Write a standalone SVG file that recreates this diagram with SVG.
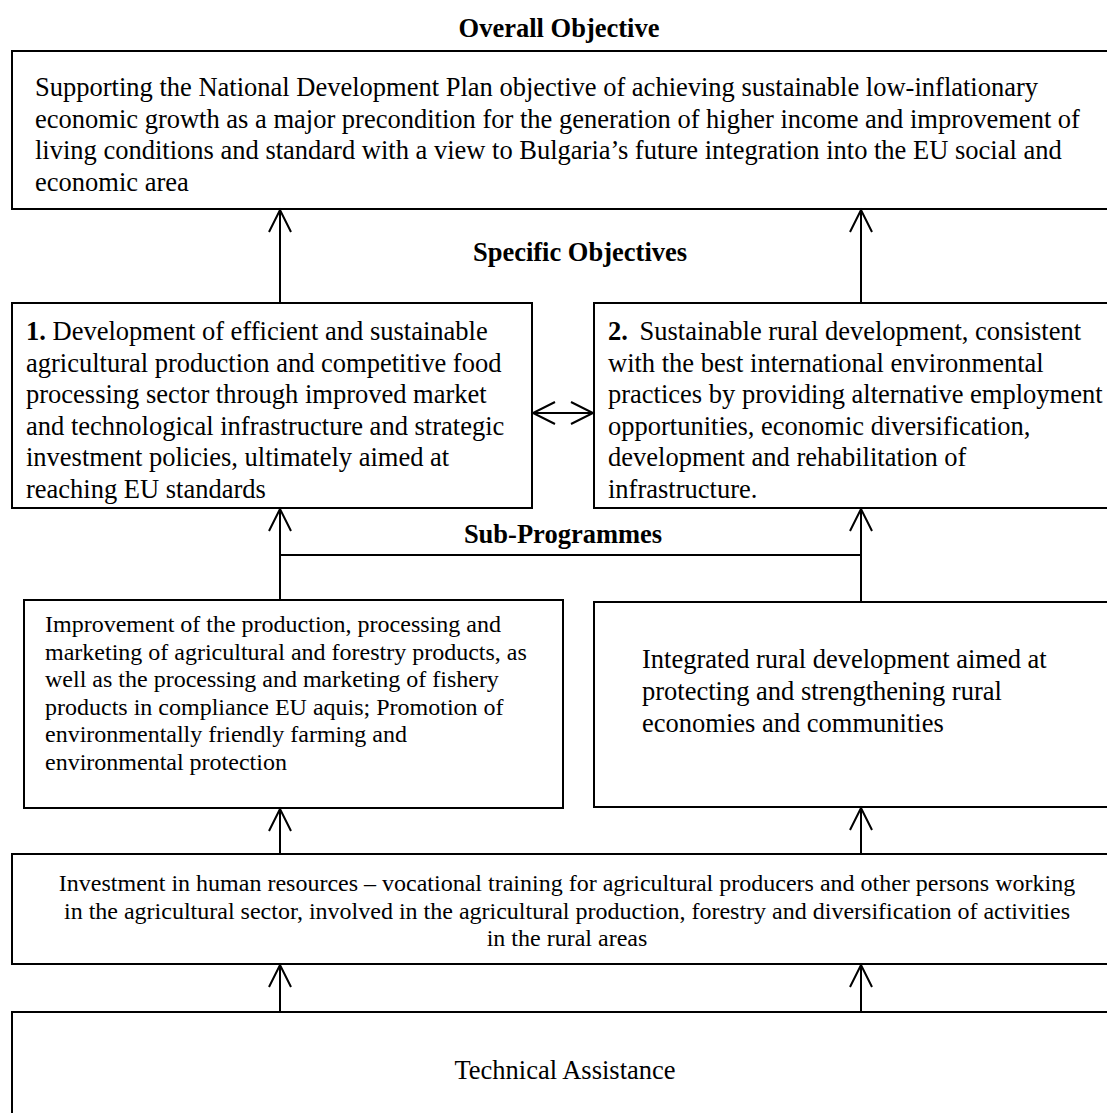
<svg xmlns="http://www.w3.org/2000/svg" width="1107" height="1113" viewBox="0 0 1107 1113">
<style>
text{font-family:"Liberation Serif","Times New Roman",serif;fill:#000}
.h{font-weight:bold;font-size:26.5px;text-anchor:middle}
.t{font-size:26.5px}
.s{font-size:24px}
.c{text-anchor:middle}
.b{font-weight:bold}
.box{fill:#fff;stroke:#000;stroke-width:2}
.ln{fill:none;stroke:#000;stroke-width:2}
</style>
<defs>
<marker id="ah" markerUnits="userSpaceOnUse" markerWidth="30" markerHeight="30" refX="0" refY="0" orient="auto-start-reverse" overflow="visible">
<path d="M-22,-11 L0,0 L-22,11" fill="none" stroke="#000" stroke-width="2"/>
</marker>
</defs>
<rect width="1107" height="1113" fill="#fff"/>
<text class="h" x="559" y="37">Overall Objective</text>
<text class="h" x="580" y="261">Specific Objectives</text>
<text class="h" x="563" y="543">Sub-Programmes</text>
<g id="overall">
<rect class="box" x="12" y="51" width="1120" height="158"/>
<text class="t" x="35" y="96">Supporting the National Development Plan objective of achieving sustainable low-inflationary</text>
<text class="t" x="35" y="127.5">economic growth as a major precondition for the generation of higher income and improvement of</text>
<text class="t" x="35" y="159">living conditions and standard with a view to Bulgaria’s future integration into the EU social and</text>
<text class="t" x="35" y="190.5">economic area</text>
</g>
<g id="obj1">
<rect class="box" x="12" y="303" width="520" height="205"/>
<text class="t" x="26" y="340"><tspan class="b">1.</tspan> Development of efficient and sustainable</text>
<text class="t" x="26" y="371.5">agricultural production and competitive food</text>
<text class="t" x="26" y="403">processing sector through improved market</text>
<text class="t" x="26" y="434.5">and technological infrastructure and strategic</text>
<text class="t" x="26" y="466">investment policies, ultimately aimed at</text>
<text class="t" x="26" y="497.5">reaching EU standards</text>
</g>
<g id="obj2">
<rect class="box" x="594" y="303" width="540" height="205"/>
<text class="t" x="608" y="340"><tspan class="b">2.</tspan><tspan x="639.5">Sustainable rural development, consistent</tspan></text>
<text class="t" x="608" y="371.5">with the best international environmental</text>
<text class="t" x="608" y="403">practices by providing alternative employment</text>
<text class="t" x="608" y="434.5">opportunities, economic diversification,</text>
<text class="t" x="608" y="466">development and rehabilitation of</text>
<text class="t" x="608" y="497.5">infrastructure.</text>
</g>
<g id="sub1">
<rect class="box" x="24" y="600" width="539" height="208"/>
<text class="s" x="45" y="632">Improvement of the production, processing and</text>
<text class="s" x="45" y="659.5">marketing of agricultural and forestry products, as</text>
<text class="s" x="45" y="687">well as the processing and marketing of fishery</text>
<text class="s" x="45" y="714.5">products in compliance EU aquis; Promotion of</text>
<text class="s" x="45" y="742">environmentally friendly farming and</text>
<text class="s" x="45" y="769.5">environmental protection</text>
</g>
<g id="sub2">
<rect class="box" x="594" y="602" width="540" height="205"/>
<text class="t" x="642" y="668">Integrated rural development aimed at</text>
<text class="t" x="642" y="700">protecting and strengthening rural</text>
<text class="t" x="642" y="732">economies and communities</text>
</g>
<g id="invest">
<rect class="box" x="12" y="854" width="1120" height="110"/>
<text class="s c" x="567" y="891">Investment in human resources – vocational training for agricultural producers and other persons working</text>
<text class="s c" x="567" y="918.5">in the agricultural sector, involved in the agricultural production, forestry and diversification of activities</text>
<text class="s c" x="567" y="946">in the rural areas</text>
</g>
<g id="ta">
<rect class="box" x="12" y="1012" width="1120" height="130"/>
<text class="t c" x="565" y="1079">Technical Assistance</text>
</g>
<g id="connectors">
<line class="ln" x1="280" y1="303" x2="280" y2="210" marker-end="url(#ah)"/>
<line class="ln" x1="861" y1="303" x2="861" y2="210" marker-end="url(#ah)"/>
<line class="ln" x1="533" y1="413" x2="593" y2="413" marker-start="url(#ah)" marker-end="url(#ah)"/>
<line class="ln" x1="280" y1="600" x2="280" y2="509" marker-end="url(#ah)"/>
<line class="ln" x1="861" y1="602" x2="861" y2="509" marker-end="url(#ah)"/>
<line class="ln" x1="280" y1="555" x2="861" y2="555"/>
<line class="ln" x1="280" y1="854" x2="280" y2="809" marker-end="url(#ah)"/>
<line class="ln" x1="861" y1="854" x2="861" y2="808" marker-end="url(#ah)"/>
<line class="ln" x1="280" y1="1012" x2="280" y2="965" marker-end="url(#ah)"/>
<line class="ln" x1="861" y1="1012" x2="861" y2="965" marker-end="url(#ah)"/>
</g>
</svg>
